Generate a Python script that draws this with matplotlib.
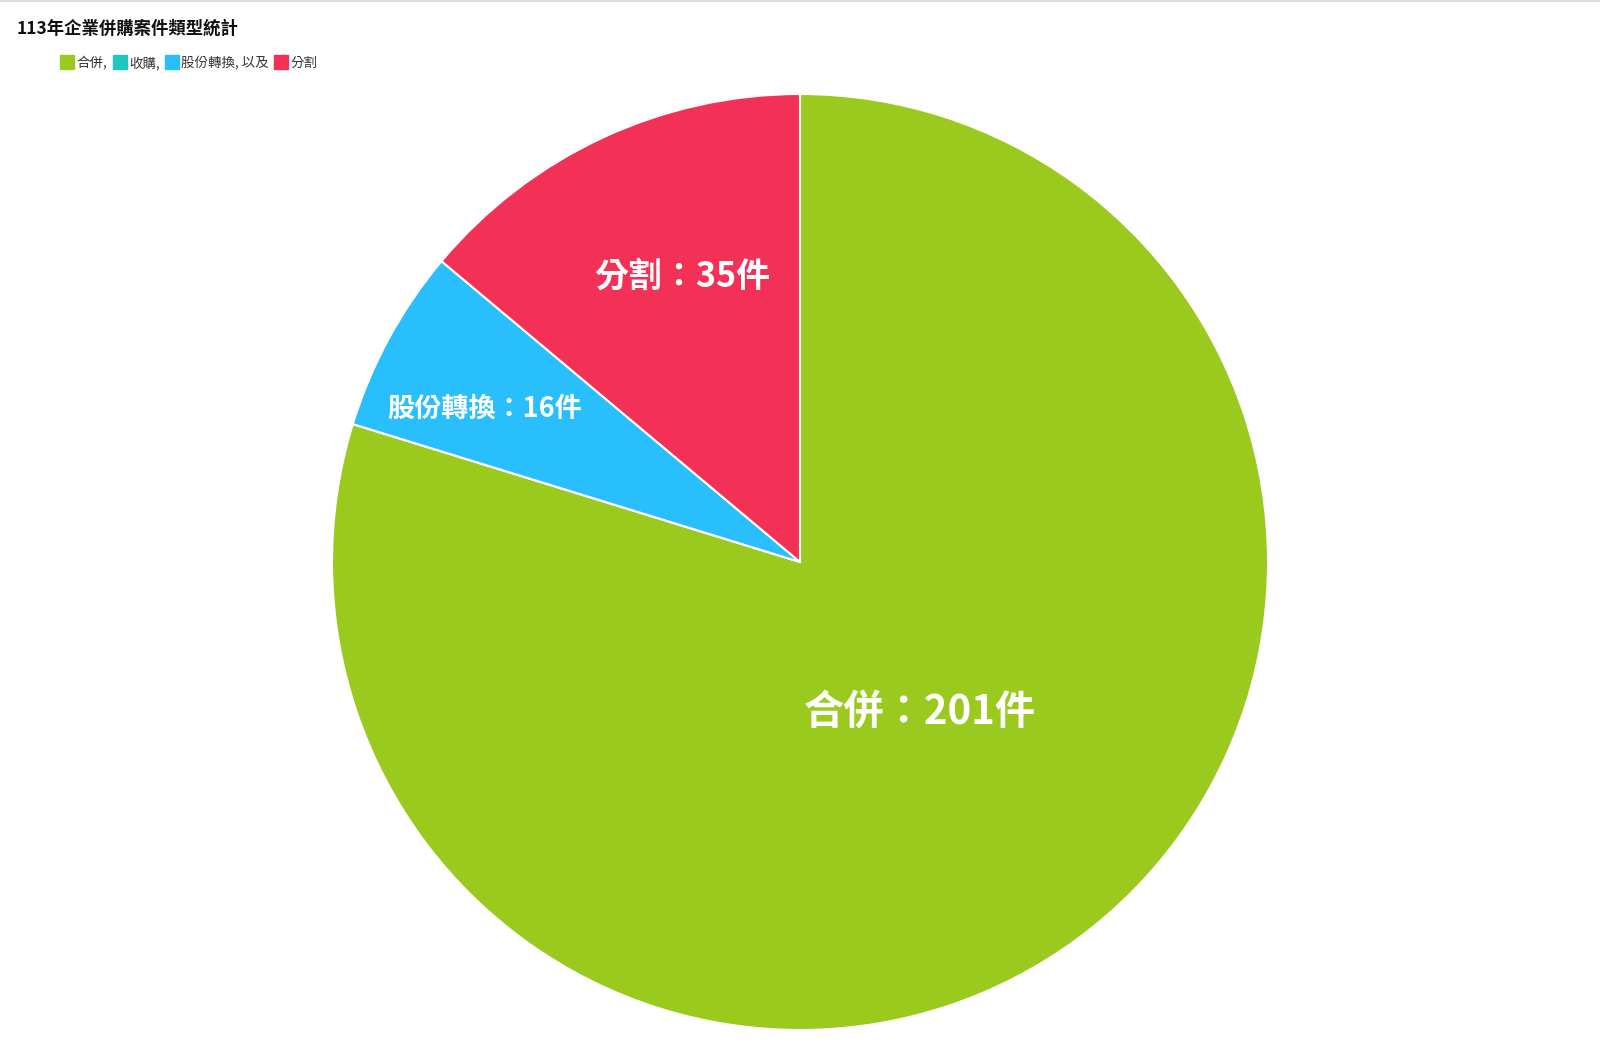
import numpy as np
import matplotlib.pyplot as plt
from matplotlib.lines import Line2D

plt.rcParams['font.family'] = ['Noto Sans CJK TC', 'DejaVu Sans']

# --- data ---
categories = ['合併', '收購', '股份轉換', '分割']
counts = [201, 0, 16, 35]
colors = ['#9BCA1F', '#1EC8C0', '#29BEFC', '#F33055']
legend_labels = ['合併,', '收購,', '股份轉換, 以及', '分割']
title = '113年企業併購案件類型統計'

# label placement per slice (radial fraction, angle offset in deg, font size)
label_r = [0.41, 0.0, 0.75, 0.66]
label_dang = [2.1, 0.0, 2.6, -2.6]
label_fs = [29, 0, 19.5, 24.5]

W, H = 1600, 1055
fig = plt.figure(figsize=(W / 100, H / 100), dpi=100)
fig.patch.set_facecolor('white')

cx, cy, R = 800, 562, 468
ax = fig.add_axes([(cx - R) / W, (H - cy - R) / H, 2 * R / W, 2 * R / H])
wedges, _ = ax.pie(counts, colors=colors, startangle=90, counterclock=False,
                   radius=1.0, wedgeprops=dict(edgecolor='white', linewidth=1.5))
ax.set_xlim(-1, 1)
ax.set_ylim(-1, 1)
ax.set_aspect('equal')
ax.axis('off')

for w, cat, n, fr, da, fs in zip(wedges, categories, counts, label_r, label_dang, label_fs):
    if n == 0:
        continue
    mid = np.deg2rad((w.theta1 + w.theta2) / 2 + da)
    ax.text(fr * np.cos(mid), fr * np.sin(mid), f'{cat}：{n}件',
            ha='center', va='center', color='white', fontsize=fs, fontweight='bold')

# title + legend
fig.text(17 / W, 1 - 29 / H, title, fontsize=12.5, fontweight='bold',
         ha='left', va='center', color='#111111')

handles = [Line2D([0], [0], marker='s', linestyle='none', markersize=10,
                  markerfacecolor=c, markeredgecolor=c) for c in colors]
leg = fig.legend(handles, legend_labels, loc='center left',
                 bbox_to_anchor=(62 / W, 1 - 63 / H), ncol=4, frameon=False,
                 fontsize=9.7, handlelength=0.8, handletextpad=0.3,
                 columnspacing=0.5, borderpad=0, borderaxespad=0)
for t in leg.get_texts():
    t.set_color('#333333')

# thin top border like the page frame
fig.add_artist(Line2D([0, 1], [1 - 1 / H, 1 - 1 / H], color='#dddddd', linewidth=1.5))

fig.savefig('out.png', dpi=100, facecolor='white')
